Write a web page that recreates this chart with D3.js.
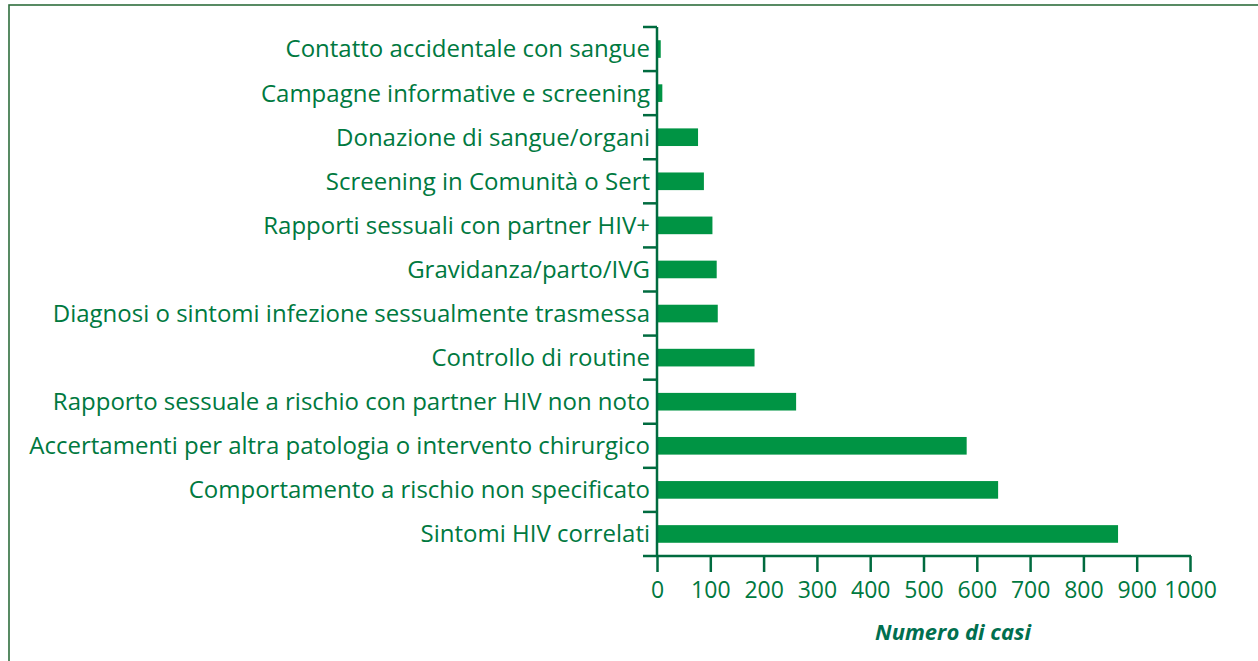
<!DOCTYPE html>
<html>
<head>
<meta charset="utf-8">
<script src="https://cdn.jsdelivr.net/npm/d3@7"></script>
<style>
  body { margin: 0; background: #fff; }
  svg { display: block; }
</style>
</head>
<body>
<div id="chart"></div>
<script>
var categories = [
  "Contatto accidentale con sangue",
  "Campagne informative e screening",
  "Donazione di sangue/organi",
  "Screening in Comunità o Sert",
  "Rapporti sessuali con partner HIV+",
  "Gravidanza/parto/IVG",
  "Diagnosi o sintomi infezione sessualmente trasmessa",
  "Controllo di routine",
  "Rapporto sessuale a rischio con partner HIV non noto",
  "Accertamenti per altra patologia o intervento chirurgico",
  "Comportamento a rischio non specificato",
  "Sintomi HIV correlati"
];
var values = [7, 10, 77, 88, 104, 112, 114, 183, 261, 581, 640, 865];
var xTicks = [0, 100, 200, 300, 400, 500, 600, 700, 800, 900, 1000];

var w = 1258, h = 661;
var plotLeft = 657, plotRight = 1190, plotTop = 27, plotBottom = 556;
var textColor = "#00793f", axisColor = "#006b3f", barColor = "#009444";
var font = "'Open Sans', sans-serif";

var svg = d3.select("#chart").append("svg")
  .attr("width", w)
  .attr("height", h);

// frame
svg.append("rect")
  .attr("x", 9).attr("y", 5)
  .attr("width", w + 10).attr("height", h + 10)
  .attr("fill", "none")
  .attr("stroke", "#2f6e3e")
  .attr("stroke-width", 1.6);

var x = d3.scaleLinear().domain([0, 1000]).range([plotLeft, plotRight]);
var y = d3.scaleBand().domain(categories).range([plotTop, plotBottom]).paddingInner(0.6).paddingOuter(0.3);

// bars
svg.selectAll("rect.bar")
  .data(values)
  .enter()
  .append("rect")
  .attr("class", "bar")
  .attr("x", x(0))
  .attr("y", function(d, i) { return y(categories[i]); })
  .attr("width", function(d) { return x(d) - x(0); })
  .attr("height", y.bandwidth())
  .attr("fill", barColor);

// y axis: ticks at band boundaries
var step = (plotBottom - plotTop) / categories.length;
var yAxis = svg.append("g");
yAxis.append("line")
  .attr("x1", plotLeft).attr("x2", plotLeft)
  .attr("y1", plotTop).attr("y2", plotBottom)
  .attr("stroke", axisColor).attr("stroke-width", 2.5);
yAxis.selectAll("line.tick")
  .data(d3.range(categories.length))
  .enter()
  .append("line")
  .attr("class", "tick")
  .attr("x1", plotLeft - 14).attr("x2", plotLeft)
  .attr("y1", function(i) { return plotTop + i * step; })
  .attr("y2", function(i) { return plotTop + i * step; })
  .attr("stroke", axisColor).attr("stroke-width", 2.5);
yAxis.selectAll("text")
  .data(categories)
  .enter()
  .append("text")
  .attr("x", plotLeft - 7)
  .attr("y", function(d) { return y(d) + y.bandwidth() / 2; })
  .attr("dy", "0.35em")
  .attr("text-anchor", "end")
  .attr("font-family", font)
  .attr("font-size", 24)
  .attr("fill", textColor)
  .text(function(d) { return d; });

// x axis
var xAxis = svg.append("g")
  .attr("transform", "translate(0," + plotBottom + ")")
  .call(d3.axisBottom(x).tickValues(xTicks).tickSize(16).tickPadding(10).tickFormat(d3.format("d")));
xAxis.select(".domain").remove();
xAxis.append("line")
  .attr("x1", plotLeft - 14).attr("x2", plotRight + 1)
  .attr("y1", 0).attr("y2", 0)
  .attr("stroke", axisColor).attr("stroke-width", 2.5);
xAxis.selectAll(".tick line").attr("stroke", axisColor).attr("stroke-width", 2.5);
xAxis.selectAll(".tick text")
  .attr("font-family", font)
  .attr("font-size", 23)
  .attr("fill", textColor);

svg.append("text")
  .attr("x", 953)
  .attr("y", 640)
  .attr("text-anchor", "middle")
  .attr("font-family", font)
  .attr("font-size", 22)
  .attr("font-weight", "bold")
  .attr("font-style", "italic")
  .attr("fill", "#006f4f")
  .text("Numero di casi");
</script>
</body>
</html>
